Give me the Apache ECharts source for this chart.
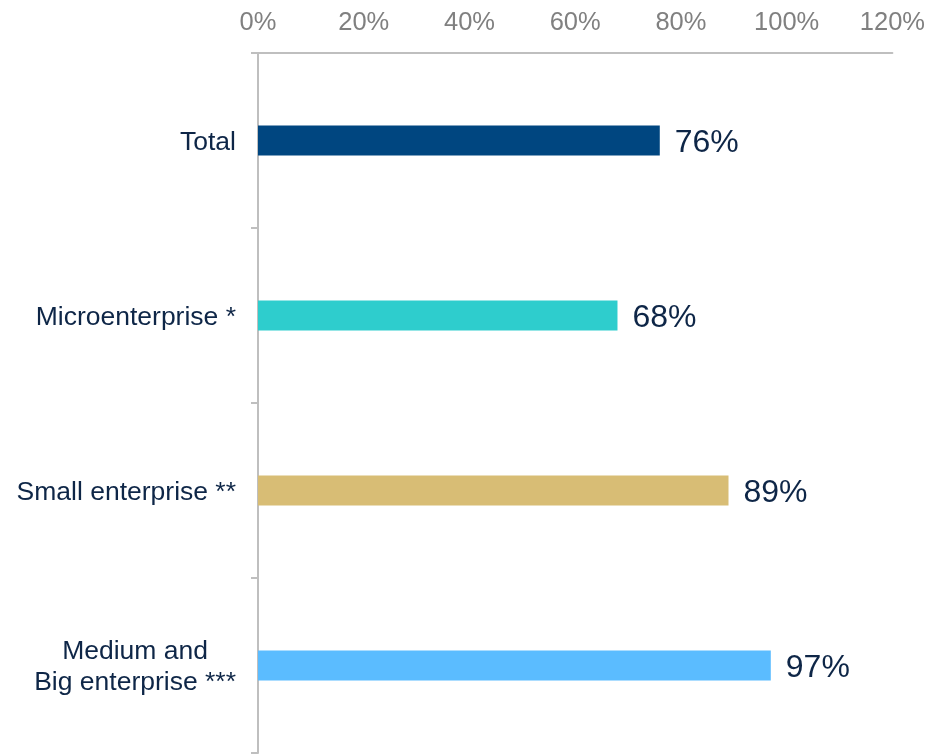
<!DOCTYPE html>
<html>
<head>
<meta charset="utf-8">
<script src="https://cdn.jsdelivr.net/npm/echarts@6/dist/echarts.min.js"></script>
<style>
  html, body { margin: 0; padding: 0; background: #ffffff; }
  #chart { width: 928px; height: 754px; }
</style>
</head>
<body>
<div id="chart"></div>
<script>
// Share of enterprises by size (percent)
const categories = ['Total', 'Microenterprise *', 'Small enterprise **', 'Medium and\nBig enterprise ***'];
const values = [76, 68, 89, 97];
const barColors = ['#004680', '#2ECDCD', '#D8BD75', '#5BBCFF'];
const tickMin = 0;
const tickMax = 120;
const tickStep = 20;

const FONT = '"Liberation Sans", Arial, sans-serif';
const NAVY = '#0E2647';

const chart = echarts.init(document.getElementById('chart'), null, { renderer: 'canvas' });

chart.setOption({
  backgroundColor: '#ffffff',
  animation: false,
  grid: { left: 258, right: 33, top: 53, bottom: 1, containLabel: false },
  xAxis: {
    type: 'value',
    position: 'top',
    min: tickMin,
    max: tickMax,
    interval: tickStep,
    axisLine: { show: true, lineStyle: { color: '#BFBFBF', width: 2 } },
    axisTick: { show: false },
    splitLine: { show: false },
    axisLabel: {
      formatter: '{value}%',
      color: '#808080',
      fontSize: 25.5,
      fontFamily: FONT,
      margin: 17
    }
  },
  yAxis: {
    type: 'category',
    inverse: true,
    data: categories,
    axisLine: { show: true, lineStyle: { color: '#BFBFBF', width: 2 } },
    axisTick: { show: true, length: 7, lineStyle: { color: '#BFBFBF', width: 2 } },
    axisLabel: {
      color: NAVY,
      fontSize: 26.5,
      fontFamily: FONT,
      margin: 22,
      lineHeight: 31,
      formatter: function (v) {
        return v.split('\n').map(function (s) { return '{c|' + s + '}'; }).join('\n');
      },
      rich: {
        c: { align: 'center', color: NAVY, fontSize: 26.5, fontFamily: FONT, lineHeight: 31, padding: [4, 0, 0, 0] }
      }
    }
  },
  series: [{
    type: 'bar',
    barWidth: 30,
    data: values.map(function (v, i) {
      return { value: v, itemStyle: { color: barColors[i] } };
    }),
    label: {
      show: true,
      position: 'right',
      distance: 15,
      offset: [0, 3],
      formatter: '{c}%',
      color: NAVY,
      fontSize: 32,
      fontFamily: FONT
    }
  }]
});
</script>
</body>
</html>
